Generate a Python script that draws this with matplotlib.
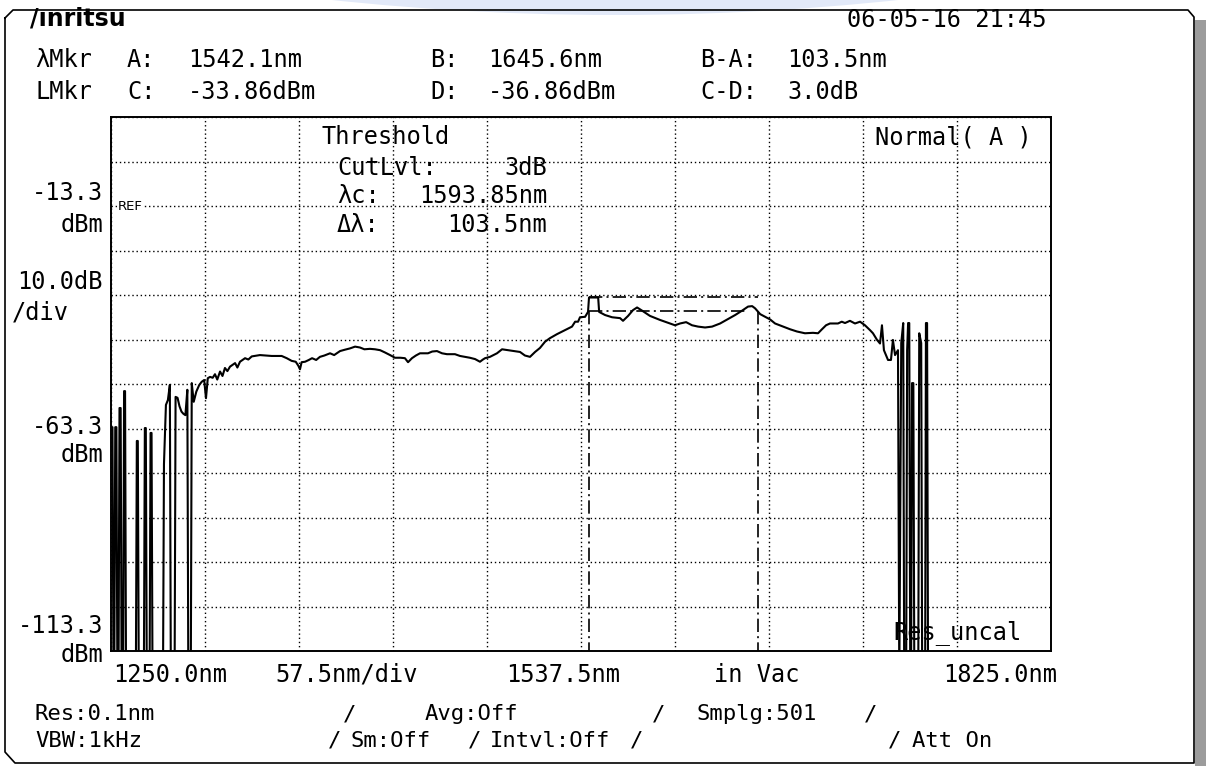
"""Optical spectrum analyzer screen: threshold measurement of a broadband source."""

import matplotlib
matplotlib.use("Agg")
import matplotlib.pyplot as plt
from matplotlib.lines import Line2D
from matplotlib.patches import Rectangle, Wedge

W, H = 1206, 766
MONO = "DejaVu Sans Mono"

# display settings
X_START, X_STOP, X_DIV = 1250.0, 1825.0, 57.5
REF_LEVEL, DB_DIV = -13.3, 10.0
Y_TOP, Y_BOTTOM = 6.7, -113.3

# markers
MKR_A, MKR_B = 1542.1, 1645.6
LVL_C, LVL_D = -33.86, -36.86
LOWER_LINE_END = 1639.0

# samples below the display floor are stored as this level
FLOOR = -120.0

TRACE_NM = [
    1250.0, 1250.9, 1251.5, 1252.0, 1252.6, 1253.3, 1253.9, 1254.6, 1255.2,
    1255.9, 1256.5, 1257.4, 1258.0, 1258.6, 1259.2, 1265.2, 1265.8, 1266.4,
    1267.0, 1270.1, 1270.7, 1271.3, 1271.9, 1273.6, 1274.2, 1274.8, 1275.4,
    1281.8, 1282.4, 1283.6, 1284.8, 1286.0, 1286.6, 1288.9,
    1289.5, 1290.7, 1291.9, 1293.1, 1294.3, 1295.5, 1296.7, 1297.3, 1298.8,
    1299.4, 1300.6, 1302.2, 1304.0, 1305.5, 1307.0, 1308.1,
    1309.2, 1310.6, 1312.2, 1313.6, 1315.0, 1316.7, 1318.2, 1319.7, 1321.2,
    1322.8, 1325.9, 1327.3, 1328.9, 1332.0, 1334.0, 1336.1, 1341.1, 1348.3,
    1354.4, 1357.5, 1360.5, 1363.0, 1364.6, 1365.6, 1366.6, 1368.7, 1371.0,
    1373.0, 1375.5, 1377.8, 1380.5, 1384.0, 1386.5, 1390.1, 1393.0, 1396.2,
    1399.3, 1402.3, 1405.0, 1408.4, 1411.5, 1414.6, 1417.5, 1420.7, 1423.7,
    1427.0, 1429.8, 1431.7, 1434.1, 1436.5, 1439.0, 1443.9, 1446.5, 1449.4,
    1452.5, 1455.5, 1460.4, 1463.5, 1466.5, 1469.5, 1472.7, 1475.7, 1477.5,
    1478.8, 1481.8, 1486.1, 1489.2, 1492.8, 1496.5, 1500.2, 1503.2, 1506.3,
    1509.4, 1512.4, 1515.5, 1518.5, 1522.8, 1527.7, 1532.0, 1533.9, 1535.7,
    1536.9, 1540.0, 1541.8, 1542.4, 1548.0, 1548.6, 1552.2, 1556.5, 1561.4,
    1563.2, 1566.3, 1569.3, 1571.8, 1574.8, 1579.7, 1585.8, 1592.0, 1595.0,
    1598.1, 1601.8, 1605.4, 1609.1, 1613.4, 1617.7, 1622.6, 1626.9, 1631.8,
    1636.1, 1639.7, 1642.2, 1644.0, 1647.1, 1650.2, 1653.2, 1656.2, 1660.5,
    1665.4, 1669.6, 1674.5, 1679.4, 1682.5, 1684.9, 1687.4, 1689.8, 1694.7,
    1697.0, 1699.0, 1702.0, 1705.1, 1708.2, 1711.2, 1714.3, 1716.1, 1718.6,
    1720.4, 1721.6, 1722.8, 1725.3, 1727.1, 1728.3, 1729.6, 1731.4, 1732.2,
    1733.4, 1734.6, 1735.2, 1736.4, 1737.0, 1737.6, 1738.3, 1738.9, 1739.4,
    1740.0, 1740.8, 1741.4, 1743.8, 1744.4, 1745.6, 1746.2, 1748.0, 1748.5,
    1749.2, 1749.8, 1825.0,
]
TRACE_DBM = [
    -63.0, -63.0, FLOOR, FLOOR, -63.0, -63.0, FLOOR, FLOOR, -58.7,
    -58.7, FLOOR, FLOOR, -54.9, -54.9, FLOOR, FLOOR, -66.1, -66.1,
    FLOOR, FLOOR, -63.2, -63.2, FLOOR, FLOOR, -64.3, -64.3, FLOOR,
    FLOOR, -71.3, -58.0, -56.9, -53.5, FLOOR, FLOOR,
    -56.2, -56.4, -58.3, -59.5, -60.0, -60.3, -54.6, FLOOR, FLOOR,
    -53.1, -57.3, -55.0, -53.5, -52.8, -52.4, -56.5,
    -52.0, -51.7, -51.9, -51.1, -52.3, -50.5, -51.5, -49.7, -50.4,
    -49.4, -48.6, -49.6, -48.3, -47.5, -47.8, -47.1, -46.8, -47.0,
    -47.0, -47.5, -48.1, -48.3, -49.2, -50.0, -48.4, -48.3, -47.9,
    -47.5, -47.9, -47.2, -46.9, -46.4, -46.8, -45.9, -45.6, -45.3,
    -44.9, -45.1, -45.5, -45.4, -45.5, -45.7, -46.2, -46.8, -47.4,
    -47.4, -47.5, -48.4, -47.5, -46.9, -46.4, -46.4, -46.0, -45.9,
    -46.4, -46.6, -46.6, -47.0, -47.2, -47.4, -47.7, -48.3, -47.8,
    -47.5, -47.2, -46.4, -45.5, -45.7, -45.9, -46.1, -46.9, -47.2,
    -46.1, -45.2, -43.8, -43.0, -42.1, -41.2, -40.4, -39.3, -39.3,
    -38.3, -38.2, -37.1, -33.86, -33.86, -37.1, -37.8, -38.3, -38.5,
    -39.1, -38.0, -36.7, -36.1, -36.8, -38.0, -38.9, -39.7, -40.1,
    -39.7, -39.4, -40.1, -40.4, -40.6, -40.4, -39.7, -38.8, -37.8,
    -36.8, -35.9, -35.8, -36.3, -37.6, -38.2, -38.8, -39.7, -40.3,
    -41.0, -41.5, -41.9, -41.8, -41.9, -41.0, -40.1, -39.7, -39.7,
    -39.3, -39.6, -39.1, -39.7, -39.3, -40.1, -41.2, -41.9, -43.4,
    -44.2, -40.1, -45.7, -47.9, -47.9, -43.4, -46.8, -45.7, FLOOR,
    -44.1, -39.6, FLOOR, FLOOR, -45.7, -39.6, -39.6, FLOOR, FLOOR,
    -53.1, -53.1, FLOOR, FLOOR, -41.9, -44.1, FLOOR, FLOOR, -39.6,
    -39.6, FLOOR, FLOOR,
]

HEADER_ROW1 = [("λMkr", 35), ("A:", 127), ("1542.1nm", 188), ("B:", 430),
               ("1645.6nm", 488), ("B-A:", 700), ("103.5nm", 787)]
HEADER_ROW2 = [("LMkr", 35), ("C:", 127), ("-33.86dBm", 188), ("D:", 430),
               ("-36.86dBm", 488), ("C-D:", 700), ("3.0dB", 787)]
STATUS_ROW1 = [("Res:0.1nm", 35), ("/", 343), ("Avg:Off", 425), ("/", 652),
               ("Smplg:501", 697), ("/", 864)]
STATUS_ROW2 = [("VBW:1kHz", 35), ("/", 328), ("Sm:Off", 350), ("/", 468),
               ("Intvl:Off", 490), ("/", 630), ("/", 888), ("Att On", 912)]


def px(x, y):
    return x / W, 1 - y / H


def put(fig, x, y, s, size=17, ha="left", **kw):
    fig.text(*px(x, y), s, ha=ha, va="center", fontsize=size, family=MONO, **kw)


fig = plt.figure(figsize=(W / 100, H / 100), dpi=100)

# faint emblem showing through at the top edge
emblem = Wedge((615 / W, 1 + 1072 / H), 1087 / H, 0, 360, width=16 / H,
               transform=fig.transFigure, facecolor="#e2e9f8", edgecolor="none")
fig.add_artist(emblem)

# instrument bezel
fig.add_artist(Rectangle(px(1195, 766), 11 / W, 746 / H, transform=fig.transFigure,
                         facecolor="#9c9c9c", edgecolor="none"))
bx = [5, 13, 1188, 1194, 1194, 15, 5, 5]
by = [18, 10, 10, 17, 763, 763, 752, 18]
fig.add_artist(Line2D([x / W for x in bx], [1 - y / H for y in by],
                      transform=fig.transFigure, color="black", lw=1.2))

x0, x1, y0, y1 = 111, 1051, 117, 651
ax = fig.add_axes([x0 / W, 1 - y1 / H, (x1 - x0) / W, (y1 - y0) / H])
ax.set_xlim(X_START, X_STOP)
ax.set_ylim(Y_BOTTOM, Y_TOP)
ax.set_xticks([X_START + X_DIV * k for k in range(11)])
ax.set_yticks([Y_BOTTOM + DB_DIV * k for k in range(13)])
ax.tick_params(length=0, labelbottom=False, labelleft=False)
ax.grid(True, color="black", linestyle=(0, (1, 2)), linewidth=1.0)
ax.set_axisbelow(True)
for sp in ax.spines.values():
    sp.set_linewidth(1.4)

ax.plot(TRACE_NM, TRACE_DBM, color="black", lw=1.5)

# threshold markers
dashdot = (0, (8, 2.5, 1.2, 2.5))
ax.plot([MKR_A, MKR_B], [LVL_C, LVL_C], color="black", lw=1.2, linestyle=dashdot)
ax.plot([MKR_A, LOWER_LINE_END], [LVL_D, LVL_D], color="black", lw=1.2, linestyle=dashdot)
for m in (MKR_A, MKR_B):
    ax.plot([m, m], [LVL_D, Y_BOTTOM], color="black", lw=1.2, linestyle=dashdot)

ax.text(1254.3, REF_LEVEL, "REF", fontsize=9.5, family="DejaVu Sans", va="center",
        bbox=dict(facecolor="white", edgecolor="none", pad=0.5))

# screen annotations
fig.text(*px(30, 19), "/ınritsu", ha="left", va="center", fontsize=17,
         family="DejaVu Sans", weight="bold")
put(fig, 947, 20, "06-05-16 21:45", ha="center")
for s, x in HEADER_ROW1:
    put(fig, x, 60, s)
for s, x in HEADER_ROW2:
    put(fig, x, 92, s)

put(fig, 321, 137, "Threshold")
put(fig, 337, 168, "CutLvl:")
put(fig, 547, 168, "3dB", ha="right")
put(fig, 337, 196, "λc:")
put(fig, 547, 196, "1593.85nm", ha="right")
put(fig, 337, 225, "Δλ:")
put(fig, 547, 225, "103.5nm", ha="right")
put(fig, 875, 137, "Normal( A )")
put(fig, 893, 633, "Res_uncal")

put(fig, 103, 193, "-13.3", ha="right")
put(fig, 103, 225, "dBm", ha="right")
put(fig, 103, 282, "10.0dB", ha="right")
put(fig, 12, 312, "/div")
put(fig, 103, 427, "-63.3", ha="right")
put(fig, 103, 455, "dBm", ha="right")
put(fig, 103, 626, "-113.3", ha="right")
put(fig, 103, 655, "dBm", ha="right")

put(fig, 113, 675, "1250.0nm")
put(fig, 275, 675, "57.5nm/div")
put(fig, 506, 675, "1537.5nm")
put(fig, 714, 675, "in Vac")
put(fig, 1057, 675, "1825.0nm", ha="right")

for s, x in STATUS_ROW1:
    put(fig, x, 714, s, size=16)
for s, x in STATUS_ROW2:
    put(fig, x, 741, s, size=16)

fig.savefig("out.png", dpi=100, facecolor="white")
